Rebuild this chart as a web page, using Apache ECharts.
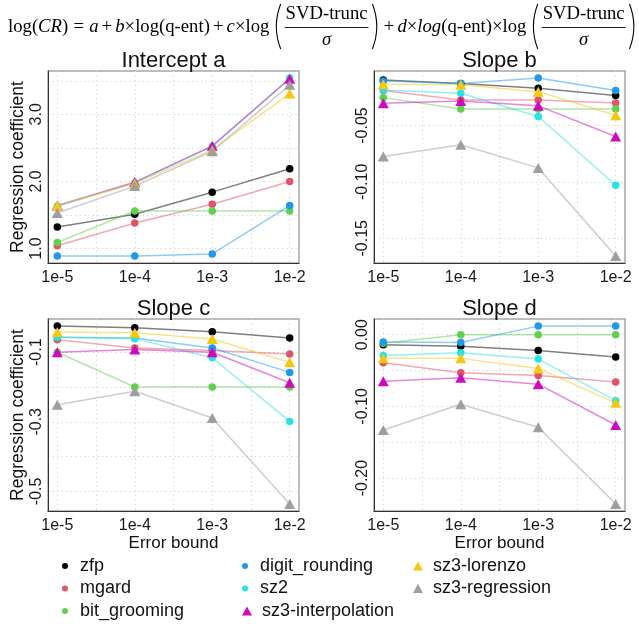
<!DOCTYPE html>
<html>
<head>
<meta charset="utf-8">
<script src="https://cdn.jsdelivr.net/npm/echarts@6/dist/echarts.min.js"></script>
<style>
  html, body { margin: 0; padding: 0; background: #fff; }
  #main { width: 639px; height: 624px; }
</style>
</head>
<body>
<div id="main"></div>
<script>
// x axis: error bound
const bounds = ['1e-5', '1e-4', '1e-3', '1e-2'];
const methods = ['zfp', 'mgard', 'bit_grooming', 'digit_rounding', 'sz2',
                 'sz3-interpolation', 'sz3-lorenzo', 'sz3-regression'];
const colors = ['#000000', '#DF536B', '#61D04F', '#2297E6', '#28E2E5',
                '#CD0BBC', '#F5C710', '#9E9E9E'];
const shapes = ['circle', 'circle', 'circle', 'circle', 'circle',
                'triangle', 'triangle', 'triangle'];

// one row per method, one value per error bound
const interceptA = [
  [1.32, 1.51, 1.84, 2.19],
  [1.04, 1.38, 1.66, 2.00],
  [1.09, 1.56, 1.56, 1.56],
  [0.89, 0.89, 0.92, 1.64],
  [1.63, 1.98, 2.52, 3.54],
  [1.64, 1.99, 2.53, 3.53],
  [1.64, 1.97, 2.47, 3.31],
  [1.53, 1.93, 2.45, 3.44]
];
const slopeB = [
  [-0.0097, -0.0127, -0.0170, -0.0235],
  [-0.0190, -0.0274, -0.0274, -0.0300],
  [-0.0253, -0.0353, -0.0353, -0.0353],
  [-0.0106, -0.0127, -0.0080, -0.0190],
  [-0.0185, -0.0215, -0.0420, -0.1030],
  [-0.0303, -0.0282, -0.0326, -0.0597],
  [-0.0135, -0.0138, -0.0200, -0.0410],
  [-0.0774, -0.0671, -0.0876, -0.1656]
];
const slopeC = [
  [-0.025, -0.030, -0.041, -0.059],
  [-0.064, -0.088, -0.095, -0.105],
  [-0.100, -0.200, -0.200, -0.200],
  [-0.057, -0.059, -0.088, -0.158],
  [-0.057, -0.061, -0.116, -0.299],
  [-0.100, -0.092, -0.100, -0.188],
  [-0.042, -0.044, -0.062, -0.129],
  [-0.251, -0.212, -0.289, -0.536]
];
const slopeD = [
  [-0.014, -0.016, -0.022, -0.031],
  [-0.039, -0.053, -0.057, -0.066],
  [-0.012,  0.000,  0.000,  0.000],
  [-0.010, -0.011,  0.012,  0.012],
  [-0.029, -0.025, -0.034, -0.092],
  [-0.065, -0.060, -0.069, -0.126],
  [-0.033, -0.033, -0.047, -0.095],
  [-0.133, -0.097, -0.129, -0.236]
];

// grid lines / labels
const xGrid = [1, 1.5, 2, 2.5, 3, 3.5, 4];
const xLabelAt = [1, 2, 3, 4];
const aTicks = [1, 1.5, 2, 2.5, 3, 3.5];
const aLabels = [1, 2, 3];
const bTicks = [-0.15, -0.10, -0.05];
const bLabels = [-0.15, -0.10, -0.05];
const cTicks = [-0.5, -0.4, -0.3, -0.2, -0.1];
const cLabels = [-0.5, -0.3, -0.1];
const dTicks = [-0.20, -0.15, -0.10, -0.05, 0.00];
const dLabels = [-0.20, -0.10, 0.00];

const sans = '"Liberation Sans", Arial, sans-serif';
const serif = '"Liberation Serif", "DejaVu Serif", serif';

const panels = [
  { title: 'Intercept a', data: interceptA, ticks: aTicks, labels: aLabels, dec: 1, left: 48, top: 71, yName: true, xName: false },
  { title: 'Slope b', data: slopeB, ticks: bTicks, labels: bLabels, dec: 2, left: 374, top: 71, yName: false, xName: false },
  { title: 'Slope c', data: slopeC, ticks: cTicks, labels: cLabels, dec: 1, left: 48, top: 319, yName: true, xName: true },
  { title: 'Slope d', data: slopeD, ticks: dTicks, labels: dLabels, dec: 2, left: 374, top: 319, yName: false, xName: true }
];
const W = 251, H = 192;

// R style 4% padding
function pad(lo, hi) {
  const r = hi - lo;
  return [lo - 0.04 * r, hi + 0.04 * r];
}

const grids = [], xAxes = [], yAxes = [], titles = [], series = [];
panels.forEach((p, i) => {
  grids.push({
    left: p.left, top: p.top, width: W, height: H,
    show: true, borderColor: '#a6a6a6', borderWidth: 1.5,
    outerBoundsMode: 'none', containLabel: false
  });
  const xr = pad(1, 4);
  xAxes.push({
    type: 'value', gridIndex: i, min: xr[0], max: xr[1],
    name: p.xName ? 'Error bound' : '', nameLocation: 'middle', nameGap: 24,
    nameMoveOverlap: false,
    nameTextStyle: { fontSize: 17, color: '#111', fontFamily: sans },
    axisLine: { show: true, onZero: false, lineStyle: { color: '#333', width: 1 } },
    axisTick: { show: false, customValues: xGrid },
    splitLine: { show: true, lineStyle: { color: '#dadada', type: [1.5, 3], width: 1 } },
    axisLabel: {
      customValues: xLabelAt, margin: 7, fontSize: 16, color: '#1a1a1a', fontFamily: sans,
      formatter: v => bounds[Math.round(v) - 1]
    }
  });
  const all = p.data.flat();
  const yr = pad(Math.min(...all), Math.max(...all));
  yAxes.push({
    type: 'value', gridIndex: i, min: yr[0], max: yr[1],
    name: p.yName ? 'Regression coefficient' : '', nameLocation: 'middle', nameGap: 21,
    nameMoveOverlap: false,
    nameTextStyle: { fontSize: 17.5, color: '#111', fontFamily: sans },
    axisLine: { show: true, onZero: false, lineStyle: { color: '#333', width: 1 } },
    axisTick: { show: false, customValues: p.ticks },
    splitLine: { show: true, lineStyle: { color: '#dadada', type: [1.5, 3], width: 1 } },
    axisLabel: {
      customValues: p.labels, rotate: 90, margin: 3, fontSize: 16, color: '#1a1a1a', fontFamily: sans,
      formatter: v => v.toFixed(p.dec)
    }
  });
  titles.push({
    text: p.title, left: p.left + W / 2, top: p.top - 21, textAlign: 'center', padding: 0,
    textStyle: { fontSize: 22, fontWeight: 'normal', color: '#111', fontFamily: sans }
  });
  p.data.forEach((vals, m) => {
    const tri = shapes[m] === 'triangle';
    series.push({
      type: 'line', name: methods[m], xAxisIndex: i, yAxisIndex: i,
      data: vals.map((v, k) => [k + 1, v]),
      symbol: tri ? 'triangle' : 'circle',
      symbolSize: tri ? [11, 10] : 7.5,
      showAllSymbol: true,
      lineStyle: { color: colors[m], width: 1.5, opacity: 0.5 },
      itemStyle: { color: colors[m], borderWidth: 0 },
      emphasis: { disabled: true },
      animation: false
    });
  });
});

// legend in three columns
const triPath = 'path://M5,0L10,9L0,9Z';
const legBase = {
  orient: 'vertical', padding: 0, itemWidth: 20, itemGap: 2.5, selectedMode: false,
  textStyle: { fontSize: 18, lineHeight: 20, color: '#111', fontFamily: sans },
  itemStyle: { borderWidth: 0 }
};
const legends = [
  Object.assign({}, legBase, { left: 62, top: 556, itemHeight: 6,
    data: methods.slice(0, 3).map(n => ({ name: n, icon: 'circle' })) }),
  Object.assign({}, legBase, { left: 242, top: 556, itemHeight: 6,
    data: methods.slice(3, 5).map(n => ({ name: n, icon: 'circle' })) }),
  Object.assign({}, legBase, { left: 242, top: 601, itemHeight: 9,
    data: methods.slice(5, 6).map(n => ({ name: n, icon: triPath })) }),
  Object.assign({}, legBase, { left: 413, top: 556, itemHeight: 9,
    data: methods.slice(6, 8).map(n => ({ name: n, icon: triPath })) })
];

// formula at the top, laid out token by token
function buildFormula() {
  const ctx = document.createElement('canvas').getContext('2d');
  const base = 20;
  const med = 3 / 18, thick = 5 / 18, thin = 3 / 18;
  const frac = { frac: true };
  const paren = o => ({ paren: o });
  const toks = [
    ['log(', 0], ['CR', 1], [')', 0], thick, ['=', 0], thick, ['a', 1], med, ['+', 0], med,
    ['b', 1], ['×', 0], ['log(q-ent)', 0], med, ['+', 0], med,
    ['c', 1], ['×', 0], ['log', 0], thin, paren('('), frac, paren(')'),
    med, ['+', 0], med, ['d', 1], ['×', 0], ['log', 1], ['(q-ent)', 0], ['×', 0],
    ['log', 0], thin, paren('('), frac, paren(')')
  ];
  const font = (it, s) => (it ? 'italic ' : '') + s + 'px ' + serif;
  const tw = (t, it, s) => { ctx.font = font(it, s); return ctx.measureText(t).width; };
  const widthOf = (tk, s) => {
    if (typeof tk === 'number') return tk * s;
    if (tk.frac) return Math.max(tw('SVD-trunc', 0, s), tw('σ', 1, s)) + 0.3 * s;
    if (tk.paren) return 0.55 * s;
    return tw(tk[0], tk[1], s);
  };
  let total = 0;
  toks.forEach(tk => { total += widthOf(tk, base); });
  const s = base * 630 / total;
  const els = [];
  let x = 8;
  const midY = 27;
  toks.forEach(tk => {
    const w = widthOf(tk, s);
    if (typeof tk === 'number') { /* space */ }
    else if (tk.frac) {
      const cx = x + w / 2;
      els.push({ type: 'text', x: cx, y: 14, silent: true,
        style: { text: 'SVD-trunc', font: font(0, s), fill: '#000', align: 'center', verticalAlign: 'middle' } });
      els.push({ type: 'line', silent: true, shape: { x1: x + 0.1 * s, y1: 27.5, x2: x + w - 0.1 * s, y2: 27.5 },
        style: { stroke: '#000', lineWidth: 0.9 } });
      els.push({ type: 'text', x: cx, y: 40, silent: true,
        style: { text: 'σ', font: font(1, s), fill: '#000', align: 'center', verticalAlign: 'middle' } });
    } else if (tk.paren) {
      const open = tk.paren === '(';
      const xc = open ? x - 0.05 * w : x + 1.05 * w;
      const xe = open ? x + 0.8 * w : x + 0.2 * w;
      els.push({ type: 'bezierCurve', silent: true,
        shape: { x1: xe, y1: 4, cpx1: xc, cpy1: 26.5, x2: xe, y2: 49 },
        style: { stroke: '#000', lineWidth: 1.1, fill: null } });
    } else {
      els.push({ type: 'text', x: x, y: midY, silent: true,
        style: { text: tk[0], font: font(tk[1], s), fill: '#000', align: 'left', verticalAlign: 'middle' } });
    }
    x += w;
  });
  return els;
}

const chart = echarts.init(document.getElementById('main'), null, { renderer: 'canvas' });
chart.setOption({
  animation: false,
  backgroundColor: '#fff',
  title: titles,
  legend: legends,
  grid: grids,
  xAxis: xAxes,
  yAxis: yAxes,
  series: series,
  graphic: buildFormula()
});
</script>
</body>
</html>
